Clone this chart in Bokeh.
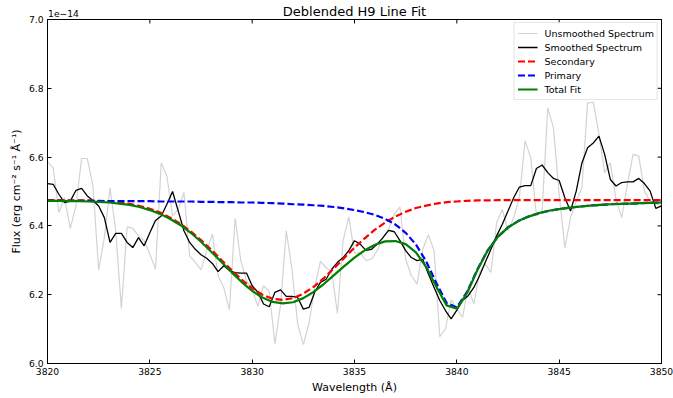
import numpy as np
from bokeh.plotting import figure
from bokeh.models import LinearAxis, FixedTicker, PrintfTickFormatter, Range1d
from bokeh.embed import file_html
from bokeh.resources import INLINE

FONT = "DejaVu Sans"

# Observed spectrum, flux in units of 1e-14 erg cm^-2 s^-1 A^-1
wave = np.linspace(3820.0, 3850.0, 109)
unsmoothed = [
    6.586, 6.569, 6.439, 6.482, 6.393, 6.458, 6.596, 6.596, 6.516, 6.272,
    6.366, 6.511, 6.386, 6.159, 6.397, 6.393, 6.371, 6.357, 6.318, 6.274,
    6.583, 6.545, 6.429, 6.448, 6.497, 6.313, 6.294, 6.272, 6.328, 6.376,
    6.255, 6.221, 6.156, 6.422, 6.299, 6.241, 6.215, 6.166, 6.226, 6.210,
    6.057, 6.171, 6.386, 6.274, 6.115, 6.055, 6.117, 6.221, 6.297, 6.279,
    6.265, 6.146, 6.357, 6.426, 6.320, 6.323, 6.300, 6.303, 6.328, 6.366,
    6.390, 6.434, 6.455, 6.303, 6.255, 6.231, 6.332, 6.374, 6.328, 6.078,
    6.101, 6.185, 6.158, 6.134, 6.221, 6.173, 6.265, 6.289, 6.265, 6.410,
    6.448, 6.386, 6.424, 6.482, 6.648, 6.598, 6.429, 6.443, 6.743, 6.685,
    6.491, 6.337, 6.424, 6.472, 6.511, 6.757, 6.760, 6.666, 6.555, 6.583,
    6.477, 6.424, 6.521, 6.608, 6.603, 6.501, 6.472, 6.463, 6.463,
]
smoothed = [
    6.523, 6.521, 6.492, 6.468, 6.472, 6.503, 6.509, 6.487, 6.474, 6.458,
    6.424, 6.352, 6.378, 6.378, 6.352, 6.337, 6.366, 6.342, 6.380, 6.416,
    6.429, 6.463, 6.500, 6.443, 6.386, 6.352, 6.332, 6.316, 6.306, 6.291,
    6.267, 6.284, 6.270, 6.264, 6.263, 6.263, 6.226, 6.207, 6.173, 6.165,
    6.207, 6.214, 6.195, 6.195, 6.192, 6.158, 6.163, 6.207, 6.236, 6.245,
    6.274, 6.294, 6.308, 6.328, 6.357, 6.347, 6.329, 6.332, 6.347, 6.366,
    6.387, 6.383, 6.357, 6.328, 6.308, 6.299, 6.303, 6.260, 6.221, 6.183,
    6.154, 6.130, 6.155, 6.183, 6.197, 6.221, 6.255, 6.294, 6.332, 6.371,
    6.405, 6.443, 6.482, 6.513, 6.517, 6.517, 6.567, 6.577, 6.555, 6.538,
    6.532, 6.482, 6.443, 6.501, 6.583, 6.627, 6.641, 6.661, 6.608, 6.535,
    6.516, 6.526, 6.528, 6.528, 6.538, 6.523, 6.501, 6.451, 6.458,
]

# Fitted components sampled every 0.5 A
fit_wave = np.arange(3820.0, 3850.01, 0.5)
secondary = [
    6.475, 6.475, 6.474, 6.474, 6.474, 6.472, 6.471, 6.468, 6.464, 6.458,
    6.450, 6.439, 6.424, 6.406, 6.384, 6.359, 6.331, 6.301, 6.271, 6.243,
    6.219, 6.200, 6.188, 6.185, 6.190, 6.203, 6.223, 6.248, 6.277, 6.307,
    6.337, 6.364, 6.389, 6.410, 6.427, 6.441, 6.452, 6.459, 6.465, 6.469,
    6.471, 6.473, 6.474, 6.474, 6.475, 6.475, 6.475, 6.475, 6.475, 6.475,
    6.475, 6.475, 6.475, 6.475, 6.475, 6.475, 6.475, 6.475, 6.475, 6.475,
    6.475,
]
primary = [
    6.473, 6.473, 6.473, 6.473, 6.473, 6.473, 6.472, 6.472, 6.472, 6.472,
    6.472, 6.471, 6.471, 6.471, 6.471, 6.470, 6.470, 6.469, 6.469, 6.468,
    6.468, 6.467, 6.466, 6.465, 6.463, 6.462, 6.460, 6.458, 6.455, 6.451,
    6.446, 6.440, 6.432, 6.420, 6.404, 6.380, 6.346, 6.297, 6.234, 6.176,
    6.163, 6.208, 6.273, 6.328, 6.368, 6.396, 6.414, 6.427, 6.437, 6.444,
    6.449, 6.453, 6.456, 6.459, 6.461, 6.463, 6.464, 6.465, 6.466, 6.467,
    6.468,
]
total_fit = [
    6.473, 6.473, 6.472, 6.472, 6.471, 6.470, 6.468, 6.465, 6.461, 6.455,
    6.446, 6.435, 6.420, 6.402, 6.380, 6.354, 6.325, 6.295, 6.265, 6.236,
    6.211, 6.192, 6.179, 6.175, 6.178, 6.190, 6.208, 6.231, 6.257, 6.283,
    6.308, 6.329, 6.345, 6.355, 6.356, 6.347, 6.323, 6.281, 6.223, 6.169,
    6.159, 6.205, 6.271, 6.328, 6.368, 6.395, 6.414, 6.427, 6.437, 6.444,
    6.449, 6.453, 6.456, 6.459, 6.461, 6.463, 6.464, 6.465, 6.466, 6.467,
    6.468,
]

x_ticks = [3820, 3825, 3830, 3835, 3840, 3845, 3850]
y_ticks = [6.0, 6.2, 6.4, 6.6, 6.8, 7.0]
X0, X1 = 3820, 3850
Y0, Y1 = 6.0, 7.0

# frame geometry
FRAME_W, FRAME_H = 614, 345
BORDER_L, BORDER_R, BORDER_T, BORDER_B = 47, 12, 18, 35
TICK_PX = 4

p = figure(
    width=BORDER_L + FRAME_W + BORDER_R, height=BORDER_T + FRAME_H + BORDER_B,
    x_range=Range1d(X0, X1), y_range=Range1d(Y0, Y1),
    output_backend="svg", toolbar_location=None,
    min_border_left=BORDER_L, min_border_right=BORDER_R,
    min_border_top=BORDER_T, min_border_bottom=BORDER_B,
)
p.background_fill_color = "white"
p.border_fill_color = "white"
p.outline_line_color = "black"
p.outline_line_width = 1
p.xgrid.visible = False
p.ygrid.visible = False

p.line(wave, unsmoothed, line_color="#d3d3d3", line_width=1.2, legend_label="Unsmoothed Spectrum")
p.line(wave, smoothed, line_color="black", line_width=1.3, legend_label="Smoothed Spectrum")
p.line(fit_wave, secondary, line_color="#ff0000", line_width=2.2, line_dash="7 3", legend_label="Secondary")
p.line(fit_wave, primary, line_color="#0000ff", line_width=2.2, line_dash="7 3", legend_label="Primary")
p.line(fit_wave, total_fit, line_color="#008000", line_width=2.2, legend_label="Total Fit")

# inward ticks on the top and right edges of the box
dy = TICK_PX * (Y1 - Y0) / FRAME_H
dx = TICK_PX * (X1 - X0) / FRAME_W
p.segment(x0=x_ticks, y0=[Y1] * len(x_ticks), x1=x_ticks, y1=[Y1 - dy] * len(x_ticks),
          line_color="black", line_width=1)
p.segment(x0=[X1] * len(y_ticks), y0=y_ticks, x1=[X1 - dx] * len(y_ticks), y1=y_ticks,
          line_color="black", line_width=1)


def style_axis(ax, ticks):
    ax.ticker = FixedTicker(ticks=ticks)
    ax.major_tick_in = TICK_PX
    ax.major_tick_out = 0
    ax.minor_tick_in = 0
    ax.minor_tick_out = 0
    ax.axis_line_color = "black"
    ax.major_tick_line_color = "black"
    ax.major_label_text_font = FONT
    ax.major_label_text_color = "black"
    ax.major_label_text_font_size = "9.2px"
    ax.major_label_standoff = 4
    ax.axis_label_text_font = FONT
    ax.axis_label_text_font_size = "11px"
    ax.axis_label_text_font_style = "normal"
    ax.axis_label_text_color = "black"
    ax.axis_label_standoff = 3


style_axis(p.xaxis[0], x_ticks)
style_axis(p.yaxis[0], y_ticks)
p.yaxis[0].formatter = PrintfTickFormatter(format="%.1f")
p.xaxis[0].axis_label = "Wavelength (Å)"
p.yaxis[0].axis_label = "Flux (erg cm⁻² s⁻¹ Å⁻¹)"

# top edge: scale-factor text over the left corner, chart title centred
OFFSET_TEXT_HALF_PX = 16
offset_anchor = X0 + OFFSET_TEXT_HALF_PX * (X1 - X0) / FRAME_W
top_axis = LinearAxis(ticker=FixedTicker(ticks=[offset_anchor]),
                      formatter=PrintfTickFormatter(format="1e−14"))
top_axis.major_tick_in = 0
top_axis.major_tick_out = 0
top_axis.minor_tick_in = 0
top_axis.minor_tick_out = 0
top_axis.axis_line_color = "black"
top_axis.major_label_text_font = FONT
top_axis.major_label_text_font_size = "9.2px"
top_axis.major_label_text_color = "black"
top_axis.major_label_standoff = 3
top_axis.axis_label = "Deblended H9 Line Fit"
top_axis.axis_label_text_font = FONT
top_axis.axis_label_text_font_size = "13px"
top_axis.axis_label_text_font_style = "normal"
top_axis.axis_label_text_color = "black"
top_axis.axis_label_standoff = -12
p.add_layout(top_axis, "above")

leg = p.legend[0]
leg.location = "top_right"
leg.margin = 3
leg.padding = 3
leg.spacing = 0
leg.glyph_width = 20
leg.glyph_height = 14
leg.label_height = 14
leg.label_standoff = 7
leg.label_text_font = FONT
leg.label_text_font_size = "9.5px"
leg.label_text_color = "black"
leg.border_line_color = "#cccccc"
leg.border_line_width = 1
leg.background_fill_color = "white"
leg.background_fill_alpha = 0.8

open("out.html", "w").write(file_html(p, INLINE))
